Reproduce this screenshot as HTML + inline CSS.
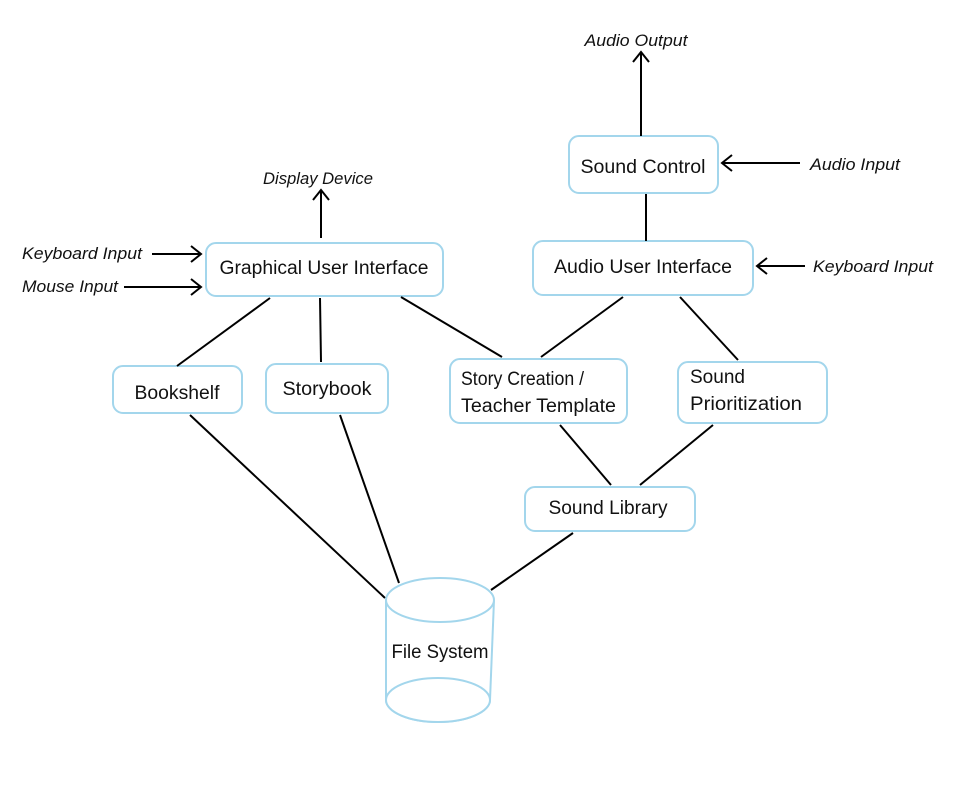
<!DOCTYPE html>
<html><head><style>body{margin:0;background:#fff}svg{display:block}</style></head><body>
<svg width="963" height="800" xmlns="http://www.w3.org/2000/svg" font-family="Liberation Sans, sans-serif">
<rect width="963" height="800" fill="#fff"/>
<g fill="#fff" stroke="#a3d6ec" stroke-width="2">
<rect x="569" y="136" width="149" height="57" rx="10"/>
<rect x="533" y="241" width="220" height="54" rx="10"/>
<rect x="206" y="243" width="237" height="53" rx="10"/>
<rect x="113" y="366" width="129" height="47" rx="10"/>
<rect x="266" y="364" width="122" height="49" rx="10"/>
<rect x="450" y="359" width="177" height="64" rx="10"/>
<rect x="678" y="362" width="149" height="61" rx="10"/>
<rect x="525" y="487" width="170" height="44" rx="10"/>
</g>
<g stroke="#000" stroke-width="2" fill="none">
<line x1="641" y1="136" x2="641" y2="52"/><polyline points="633,62 641,52 649,62"/>
<line x1="800" y1="163" x2="722" y2="163"/><polyline points="732,155 722,163 732,171"/>
<line x1="646" y1="194" x2="646" y2="241"/>
<line x1="805" y1="266" x2="757" y2="266"/><polyline points="767,258 757,266 767,274"/>
<line x1="321" y1="238" x2="321" y2="190"/><polyline points="313,200 321,190 329,200"/>
<line x1="152" y1="254" x2="201" y2="254"/><polyline points="191,246 201,254 191,262"/>
<line x1="124" y1="287" x2="201" y2="287"/><polyline points="191,279 201,287 191,295"/>
<line x1="270" y1="298" x2="177" y2="366"/>
<line x1="320" y1="298" x2="321" y2="362"/>
<line x1="401" y1="297" x2="502" y2="357"/>
<line x1="623" y1="297" x2="541" y2="357"/>
<line x1="680" y1="297" x2="738" y2="360"/>
<line x1="560" y1="425" x2="611" y2="485"/>
<line x1="713" y1="425" x2="640" y2="485"/>
<line x1="190" y1="415" x2="385" y2="598"/>
<line x1="340" y1="415" x2="399" y2="583"/>
<line x1="573" y1="533" x2="491" y2="590"/>
</g>
<g fill="#fff" stroke="#a3d6ec" stroke-width="2">
<path d="M386,600 L386,700 A52,22 0 0 0 490,700 L494,600"/>
<ellipse cx="438" cy="700" rx="52" ry="22"/>
<ellipse cx="440" cy="600" rx="54" ry="22"/>
</g>
<g font-size="19" fill="#111">
<text x="643" y="173" text-anchor="middle" textLength="125" lengthAdjust="spacingAndGlyphs">Sound Control</text>
<text x="643" y="273" text-anchor="middle" textLength="178" lengthAdjust="spacingAndGlyphs">Audio User Interface</text>
<text x="324" y="274" text-anchor="middle" textLength="209" lengthAdjust="spacingAndGlyphs">Graphical User Interface</text>
<text x="177" y="399" text-anchor="middle" textLength="85" lengthAdjust="spacingAndGlyphs">Bookshelf</text>
<text x="327" y="395" text-anchor="middle" textLength="89" lengthAdjust="spacingAndGlyphs">Storybook</text>
<text x="461" y="385" textLength="123" lengthAdjust="spacingAndGlyphs">Story Creation /</text>
<text x="461" y="412" textLength="155" lengthAdjust="spacingAndGlyphs">Teacher Template</text>
<text x="690" y="383" textLength="55" lengthAdjust="spacingAndGlyphs">Sound</text>
<text x="690" y="410" textLength="112" lengthAdjust="spacingAndGlyphs">Prioritization</text>
<text x="608" y="514" text-anchor="middle" textLength="119" lengthAdjust="spacingAndGlyphs">Sound Library</text>
<text x="440" y="658" text-anchor="middle" textLength="97" lengthAdjust="spacingAndGlyphs">File System</text>
</g>
<g font-size="17" font-style="italic" fill="#111">
<text x="636" y="46" text-anchor="middle" textLength="103" lengthAdjust="spacingAndGlyphs">Audio Output</text>
<text x="810" y="170" textLength="90" lengthAdjust="spacingAndGlyphs">Audio Input</text>
<text x="813" y="272" textLength="120" lengthAdjust="spacingAndGlyphs">Keyboard Input</text>
<text x="318" y="184" text-anchor="middle" textLength="110" lengthAdjust="spacingAndGlyphs">Display Device</text>
<text x="22" y="259" textLength="120" lengthAdjust="spacingAndGlyphs">Keyboard Input</text>
<text x="22" y="292" textLength="96" lengthAdjust="spacingAndGlyphs">Mouse Input</text>
</g>
</svg>
</body></html>
